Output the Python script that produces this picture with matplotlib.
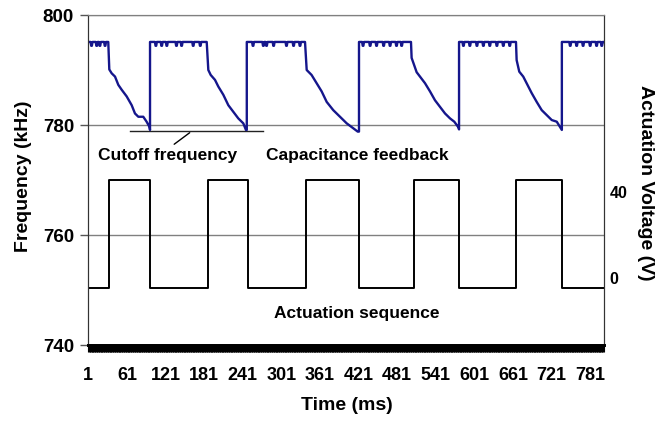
import matplotlib
matplotlib.use('Agg')
import matplotlib.pyplot as plt
from matplotlib.ticker import FixedLocator, MultipleLocator
from matplotlib.transforms import ScaledTranslation

plt.rcParams['font.family'] = ['Liberation Sans', 'DejaVu Sans']
plt.rcParams['font.weight'] = 'bold'

# ---------------- data ----------------
t_start, t_end = 1, 802
plateau_level = 795.1
dip_level = 794.4

# time at which frequency starts to drop in each cycle (ms)
drop_start = [32, 185, 337.8, 502.5, 665.7]

# decline profiles (ms, kHz) for each cycle, ending at the jump back up
decline_t = [
    [33.6, 37.3, 42.5, 47.6, 52.9, 60.6, 68.4, 73.5, 78.7, 86.4, 91.6, 95.8, 96.9],
    [187.5, 191.2, 197.9, 203.0, 210.8, 218.6, 226.3, 234.1, 241.9, 246.0, 247.3],
    [340.4, 348.0, 355.8, 363.7, 371.5, 381.7, 392.2, 402.6, 412.8, 419.7, 421.7],
    [503.5, 511.3, 516.5, 524.3, 532.1, 539.8, 547.6, 555.4, 563.2, 569.8, 576.1, 577.2],
    [666.7, 670.8, 677.0, 682.3, 690.1, 697.9, 705.7, 713.5, 721.3, 729.1, 735.3, 737.0],
]
decline_f = [
    [790.1, 789.4, 788.8, 787.3, 786.4, 785.2, 783.6, 782.1, 781.5, 781.5, 780.6, 779.7, 779.1],
    [790.0, 789.1, 788.2, 787.0, 785.5, 783.6, 782.4, 781.2, 780.3, 779.1, 779.1],
    [790.0, 789.1, 787.6, 786.1, 784.2, 782.7, 781.5, 780.3, 779.4, 778.8, 778.8],
    [792.2, 789.6, 788.8, 787.6, 786.1, 784.5, 783.3, 782.1, 781.2, 780.6, 779.6, 779.2],
    [791.8, 789.7, 788.8, 787.6, 785.8, 784.2, 782.7, 781.8, 780.9, 780.6, 779.4, 779.1],
]

# small noise dips on the plateaus (ms)
dip_times = [6, 14, 19, 27,
             106, 115, 123, 138, 146, 164, 175,
             257, 273, 278, 289, 309, 320, 330,
             428, 439, 449, 460, 470, 480, 488,
             584, 594, 605, 615, 625, 636, 646, 656,
             750, 760, 770, 781, 791, 799]

# actuation sequence: 40 V pulses
act_on = [33, 187, 339, 507, 666]
act_off = [97, 249, 422, 577, 737]
act_low, act_high = 0, 40

xtick_vals = list(range(1, 782, 60))
freq_ticks = [740, 760, 780, 800]
volt_ticks = [0, 40]

cutoff_level = 778.9
cutoff_span = [66, 272]

# ---------------- build series ----------------
ft, fv = [], []
seg = t_start


def add_plateau(a, b):
    ft.append(a); fv.append(plateau_level)
    for d in dip_times:
        if a < d - 1.5 and d + 1.5 < b:
            ft.extend([d - 1.5, d - 0.5, d + 0.5, d + 1.5])
            fv.extend([plateau_level, dip_level, dip_level, plateau_level])
    ft.append(b); fv.append(plateau_level)


for k in range(len(drop_start)):
    add_plateau(seg, drop_start[k])
    ft.extend(decline_t[k]); fv.extend(decline_f[k])
    seg = decline_t[k][-1]
add_plateau(seg, t_end)

at, av = [t_start], [act_low]
for s, e in zip(act_on, act_off):
    at.extend([s, s, e, e]); av.extend([act_low, act_high, act_high, act_low])
at.append(t_end); av.append(act_low)

# ---------------- figure ----------------
fig = plt.figure(figsize=(6.65, 4.21), dpi=100)
ax = fig.add_axes([88/665, 1-345/421, (604-88)/665, 330/421])
ax2 = ax.twinx()

ax.plot(ft, fv, color='#15168c', lw=1.7, zorder=3)
ax2.plot(at, av, color='black', lw=1.4)

ax.set_xlim(0.5, 802.5)
ax.set_ylim(740, 800)
ax2.set_ylim(-21.1, 101.1)

ax.set_yticks(freq_ticks)
ax.yaxis.grid(True, color='#808080', lw=1)
ax.set_axisbelow(True)
ax.xaxis.set_major_locator(FixedLocator(xtick_vals))
ax.xaxis.set_minor_locator(MultipleLocator(1))
ax.tick_params(axis='x', which='both', direction='out', length=5, width=0.8,
               color='black', labelsize=13, pad=11)
ax.tick_params(axis='y', direction='out', length=6, width=1, color='#555555',
               labelsize=13.5, pad=4)
for lab in ax.get_xticklabels() + ax.get_yticklabels():
    lab.set_fontweight('bold')

ax2.set_yticks(volt_ticks)
ax2.tick_params(axis='y', length=0, labelsize=11.5, pad=4)
for lab in ax2.get_yticklabels():
    lab.set_fontweight('bold')
for tick, dy in zip(ax2.yaxis.get_major_ticks(), [10, -12]):
    tick.label2.set_transform(tick.label2.get_transform() +
                              ScaledTranslation(0, dy/100, fig.dpi_scale_trans))

for a in (ax, ax2):
    a.spines['top'].set_color('#808080')
    a.spines['left'].set_color('#333333')
    a.spines['right'].set_color('#333333')
    a.spines['bottom'].set_color('black')
    a.spines['bottom'].set_linewidth(2)

ax.set_ylabel('Frequency (kHz)', fontsize=14, fontweight='bold')
ax.yaxis.set_label_coords(-0.108, 0.512)
ax.set_xlabel('Time (ms)', fontsize=14, fontweight='bold')
ax.xaxis.set_label_coords(0.502, -0.158)
ax2.set_ylabel('Actuation Voltage (V)', fontsize=14, fontweight='bold',
               rotation=-90, va='center')
ax2.yaxis.set_label_coords(1.0795, 0.491)

# annotations
ax.plot(cutoff_span, [cutoff_level, cutoff_level], color='#222222', lw=1, zorder=2)
ax.annotate('', xy=(131, 776.2), xytext=(162, cutoff_level),
            arrowprops=dict(arrowstyle='-', color='black', lw=1))
ax.text(124, 774.4, 'Cutoff frequency', ha='center', va='center',
        fontsize=12.5, fontweight='bold')
ax.text(419, 774.4, 'Capacitance feedback', ha='center', va='center',
        fontsize=12.5, fontweight='bold')
ax.text(418, 745.8, 'Actuation sequence', ha='center', va='center',
        fontsize=12.5, fontweight='bold')

fig.savefig('out.png', dpi=100)
